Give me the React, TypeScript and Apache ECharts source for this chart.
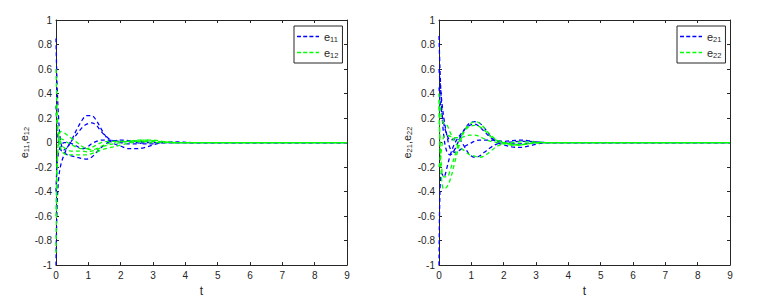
import React, { useEffect, useRef } from "react";
import * as echarts from "echarts";

const T = [0, 0.03, 0.08, 0.15, 0.25, 0.35, 0.5, 0.65, 0.8, 0.95, 1.1, 1.25, 1.4, 1.6, 1.8, 2.0, 2.25, 2.5, 2.75, 3.0, 3.3, 3.7, 4.2, 9];

const xTicks = [0, 1, 2, 3, 4, 5, 6, 7, 8, 9];
const yTicks = [-1, -0.8, -0.6, -0.4, -0.2, 0, 0.2, 0.4, 0.6, 0.8, 1];

// Left panel: e11 (blue) and e12 (green)
const e11a = [0.85, 0.5, 0.2, 0.0, -0.06, -0.04, 0.03, 0.11, 0.18, 0.22, 0.22, 0.18, 0.11, 0.03, -0.01, -0.03, -0.05, -0.05, -0.04, -0.02, 0, 0.005, 0, 0];
const e11b = [-1.0, -0.55, -0.3, -0.18, -0.1, -0.04, 0.02, 0.07, 0.12, 0.15, 0.16, 0.14, 0.09, 0.04, 0.01, 0.0, -0.01, -0.01, 0, 0, 0, 0, 0, 0];
const e11c = [0.3, 0.15, 0.0, -0.06, -0.08, -0.1, -0.11, -0.12, -0.13, -0.135, -0.12, -0.08, -0.04, 0.0, 0.015, 0.02, 0.015, 0.01, 0.005, 0, 0, 0, 0, 0];
const e11d = [-0.4, -0.2, -0.08, -0.03, 0.0, 0.0, -0.01, -0.03, -0.05, -0.04, -0.01, 0.01, 0.02, 0.02, 0.015, 0.01, 0.005, 0, -0.01, -0.01, 0, 0, 0, 0];

const e12a = [0.6, 0.3, 0.05, -0.05, -0.09, -0.1, -0.1, -0.1, -0.1, -0.1, -0.09, -0.08, -0.06, -0.045, -0.035, -0.02, -0.005, 0.005, 0.01, 0.01, 0.005, 0, 0, 0];
const e12b = [-0.9, -0.3, 0.05, 0.09, 0.08, 0.06, 0.03, 0.0, -0.03, -0.05, -0.06, -0.05, -0.03, -0.01, 0.005, 0.01, 0.01, 0.01, 0.005, 0, 0, 0, 0, 0];
const e12c = [0.3, 0.15, 0.05, 0.0, -0.04, -0.06, -0.07, -0.07, -0.07, -0.075, -0.07, -0.06, -0.04, -0.02, -0.01, 0.0, 0.01, 0.02, 0.02, 0.015, 0.005, 0, 0, 0];
const e12d = [-0.6, -0.2, -0.02, 0.03, 0.02, 0.0, -0.02, -0.04, -0.05, -0.05, -0.04, -0.02, 0.0, 0.01, 0.01, 0.01, 0.01, 0.015, 0.02, 0.02, 0.01, 0, 0, 0];

// Right panel: e21 (blue) and e22 (green)
const e21a = [0.87, 0.6, 0.3, 0.05, -0.08, -0.1, -0.05, 0.04, 0.11, 0.16, 0.17, 0.16, 0.12, 0.05, 0.0, -0.02, -0.035, -0.04, -0.03, -0.015, 0, 0, 0, 0];
const e21b = [-1.0, -0.4, -0.25, -0.28, -0.2, -0.1, 0.0, 0.06, 0.11, 0.14, 0.15, 0.13, 0.09, 0.04, 0.01, 0.0, -0.01, -0.01, -0.005, 0, 0, 0, 0, 0];
const e21c = [0.6, 0.5, 0.35, 0.2, 0.05, -0.05, -0.08, -0.06, -0.03, -0.01, 0.01, 0.02, 0.02, 0.02, 0.015, 0.01, 0.015, 0.02, 0.015, 0.005, 0, 0, 0, 0];
const e21d = [0.45, 0.35, 0.25, 0.15, 0.06, 0.02, 0.03, 0.02, -0.04, -0.1, -0.12, -0.11, -0.08, -0.04, -0.01, 0.0, 0.005, 0.01, 0.01, 0.005, 0, 0, 0, 0];

const e22a = [0.4, 0.0, -0.3, -0.38, -0.36, -0.3, -0.15, 0.0, 0.1, 0.15, 0.17, 0.16, 0.12, 0.06, 0.02, 0.0, -0.02, -0.02, -0.01, 0, 0, 0, 0, 0];
const e22b = [0.3, 0.0, -0.2, -0.28, -0.28, -0.22, -0.1, 0.03, 0.1, 0.13, 0.14, 0.13, 0.1, 0.05, 0.015, 0.0, -0.01, -0.015, -0.01, -0.005, 0, 0, 0, 0];
const e22c = [0.35, 0.3, 0.2, 0.15, 0.14, 0.08, 0.0, -0.04, -0.07, -0.1, -0.11, -0.12, -0.11, -0.07, -0.03, -0.01, 0.0, 0.005, 0.005, 0.005, 0, 0, 0, 0];
const e22d = [-0.2, -0.15, -0.05, 0.05, 0.06, 0.05, 0.04, 0.04, 0.05, 0.06, 0.06, 0.05, 0.03, 0.01, 0.0, -0.01, -0.02, -0.02, -0.01, 0, 0, 0, 0, 0];

const BLUE = "#0000ff";
const GREEN = "#00ff00";
const AXIS = "#262626";
const FONT = "Liberation Sans, Arial, sans-serif";

const DASH_ICON = "path://M0,0h4v1.3h-4zM6.2,0h4v1.3h-4zM12.4,0h4v1.3h-4zM18.6,0h3.4v1.3h-3.4z";

const rich = {
  e: { fontSize: 11, fontFamily: FONT, color: AXIS },
  s: { fontSize: 7.5, fontFamily: FONT, color: AXIS, padding: [5, 0, 0, 0] },
};

function mkSeries(name: string, vals: number[], color: string, axisIdx: number) {
  return {
    type: "line",
    name,
    xAxisIndex: axisIdx,
    yAxisIndex: axisIdx,
    data: T.map((t, i) => [t, vals[i]]),
    smooth: 0.35,
    symbol: "none",
    showSymbol: false,
    itemStyle: { color },
    lineStyle: { color, width: 1.3, type: [4, 3] },
    z: color === BLUE ? 3 : 4,
  };
}

function xAx(grid: number, pos: "bottom" | "top") {
  return {
    type: "value",
    gridIndex: grid,
    position: pos,
    min: 0,
    max: 9,
    interval: 1,
    name: pos === "bottom" ? "t" : "",
    nameLocation: "middle",
    nameGap: 19,
    nameTextStyle: { fontSize: 12, fontFamily: FONT, color: AXIS },
    axisLine: { show: true, onZero: false, lineStyle: { color: AXIS, width: 1 } },
    axisTick: { show: true, inside: true, length: 3, lineStyle: { color: AXIS } },
    axisLabel: {
      show: pos === "bottom",
      fontSize: 10,
      fontFamily: FONT,
      color: AXIS,
      margin: 5,
      formatter: (v: number) => (xTicks.includes(Math.round(v)) ? String(Math.round(v)) : ""),
    },
    splitLine: { show: false },
  };
}

function yAx(grid: number, pos: "left" | "right", nm: string) {
  return {
    type: "value",
    gridIndex: grid,
    position: pos,
    min: -1,
    max: 1,
    interval: 0.2,
    name: pos === "left" ? nm : "",
    nameLocation: "middle",
    nameGap: 25,
    nameRotate: 90,
    nameTextStyle: { fontSize: 11, fontFamily: FONT, color: AXIS, rich },
    axisLine: { show: true, onZero: false, lineStyle: { color: AXIS, width: 1 } },
    axisTick: { show: true, inside: true, length: 3, lineStyle: { color: AXIS } },
    axisLabel: {
      show: pos === "left",
      fontSize: 10,
      fontFamily: FONT,
      color: AXIS,
      margin: 4,
      formatter: (v: number) => {
        const r = Math.round(v * 10) / 10;
        return yTicks.includes(r) ? String(r) : "";
      },
    },
    splitLine: { show: false },
  };
}

function legendFmt(n: string) {
  return "{e|e}{s|" + n.slice(1) + "}";
}

export default function App() {
  const ref = useRef<HTMLDivElement>(null);
  useEffect(() => {
    if (!ref.current) return;
    const chart = echarts.init(ref.current, undefined, { renderer: "svg" });
    const series = [
      mkSeries("e11", e11a, BLUE, 0),
      mkSeries("e11", e11b, BLUE, 0),
      mkSeries("e11", e11c, BLUE, 0),
      mkSeries("e11", e11d, BLUE, 0),
      mkSeries("e12", e12a, GREEN, 0),
      mkSeries("e12", e12b, GREEN, 0),
      mkSeries("e12", e12c, GREEN, 0),
      mkSeries("e12", e12d, GREEN, 0),
      mkSeries("e21", e21a, BLUE, 2),
      mkSeries("e21", e21b, BLUE, 2),
      mkSeries("e21", e21c, BLUE, 2),
      mkSeries("e21", e21d, BLUE, 2),
      mkSeries("e22", e22a, GREEN, 2),
      mkSeries("e22", e22b, GREEN, 2),
      mkSeries("e22", e22c, GREEN, 2),
      mkSeries("e22", e22d, GREEN, 2),
    ];
    const legendBase = {
      orient: "vertical",
      top: 26,
      padding: [5, 4, 4, 3],
      icon: DASH_ICON,
      itemWidth: 22,
      itemHeight: 1.3,
      itemGap: 4,
      borderColor: AXIS,
      borderWidth: 1,
      backgroundColor: "#ffffff",
      selectedMode: false,
      formatter: legendFmt,
      textStyle: { fontSize: 11, fontFamily: FONT, color: AXIS, rich },
    };
    chart.setOption({
      animation: false,
      backgroundColor: "#ffffff",
      grid: [
        { left: 56, top: 20, width: 291, height: 249, containLabel: false },
        { left: 439, top: 20, width: 291, height: 249, containLabel: false },
      ],
      xAxis: [xAx(0, "bottom"), xAx(0, "top"), xAx(1, "bottom"), xAx(1, "top")],
      yAxis: [
        yAx(0, "left", "{e|e}{s|11}{e|,e}{s|12}"),
        yAx(0, "right", ""),
        yAx(1, "left", "{e|e}{s|21}{e|,e}{s|22}"),
        yAx(1, "right", ""),
      ],
      legend: [
        { ...legendBase, left: 294, data: ["e11", "e12"] },
        { ...legendBase, left: 677, data: ["e21", "e22"] },
      ],
      series,
    });
    return () => chart.dispose();
  }, []);
  return <div ref={ref} style={{ position: "absolute", left: 0, top: 0, width: 768, height: 302 }} />;
}
